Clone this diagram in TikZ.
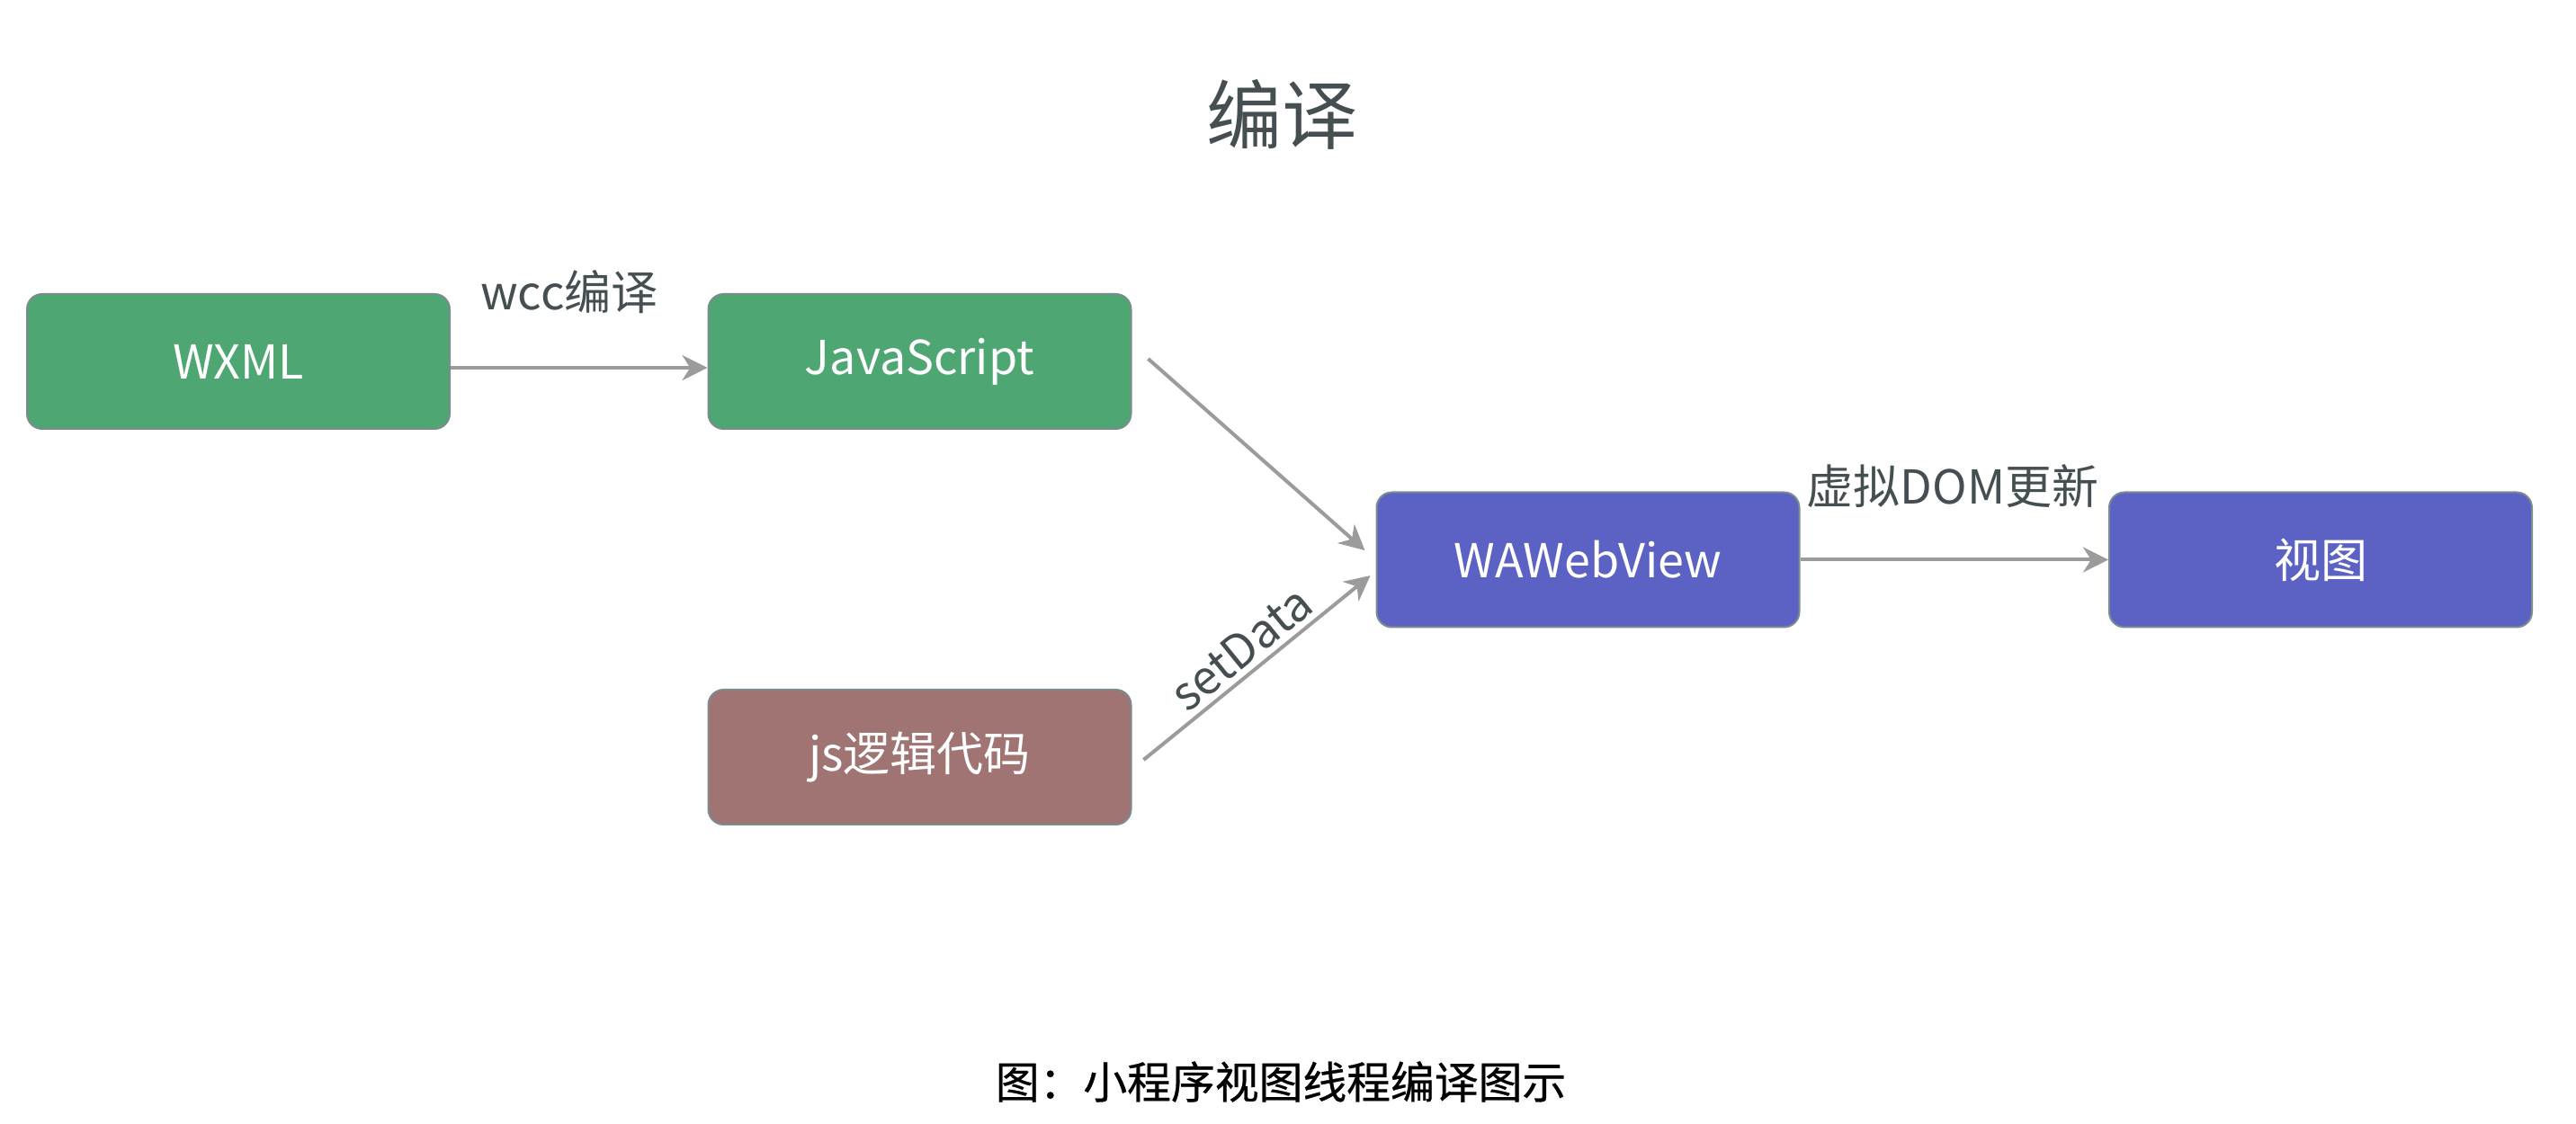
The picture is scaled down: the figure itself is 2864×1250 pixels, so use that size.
\documentclass[tikz,border=0pt]{standalone}
\usepackage{fontspec}
\setmainfont{Noto Sans CJK SC}
\newfontfamily\capfont[FakeBold=0.6]{Noto Sans CJK SC}
\usetikzlibrary{arrows.meta}
\definecolor{boxgreen}{HTML}{4EA672}
\definecolor{boxpurple}{HTML}{5C62C4}
\definecolor{boxbrown}{HTML}{A07472}
\definecolor{boxborder}{HTML}{7B8B8E}
\definecolor{textgray}{HTML}{454F52}
\definecolor{arrowgray}{HTML}{9B9B9B}
\tikzset{
  stepbox/.style={draw=boxborder, line width=0.5pt, rounded corners=4.25pt,
    minimum width=117.5pt, minimum height=37.5pt, inner sep=0pt,
    text=white, font=\fontsize{13pt}{15pt}\selectfont},
  greenbox/.style={stepbox, fill=boxgreen},
  purplebox/.style={stepbox, fill=boxpurple},
  brownbox/.style={stepbox, fill=boxbrown},
  flow/.style={draw=arrowgray, line width=1pt,
    -{Stealth[length=7pt, width=7pt, inset=2.2pt]}},
  lbl/.style={text=textgray, font=\fontsize{13pt}{15pt}\selectfont, inner sep=1.5pt}
}
\begin{document}
\begin{tikzpicture}[x=0.25pt, y=-0.25pt]
\useasboundingbox (0,0) rectangle (2864,1250);
\fill[white] (0,0) rectangle (2864,1250);

\node[text=textgray, font=\fontsize{21pt}{25pt}\selectfont] (title) at (1425,127) {编译};

\node[greenbox] (wxml) at (265,402) {WXML};
\node[greenbox] (js) at (1022.5,402) {JavaScript};
\node[brownbox] (logic) at (1022.5,842) {js逻辑代码};
\node[purplebox] (wa) at (1765.5,622.5) {WAWebView};
\node[purplebox] (view) at (2580,622.5) {视图};

\node[lbl] (wcc) at (633,325) {wcc编译};
\node[lbl] (vdom) at (2171,541) {虚拟DOM更新};

\draw[flow] ([yshift=-1.75pt]wxml.east) -- ([yshift=-1.75pt]js.west);
\draw[flow] ([xshift=4.5pt, yshift=0.75pt]js.east) -- ([xshift=-3pt, yshift=2.6pt]wa.west);
\draw[flow] ([xshift=3.25pt, yshift=-0.75pt]logic.east) -- ([xshift=-1.5pt, yshift=-4.4pt]wa.west)
  node[lbl, pos=0.5, sloped, above] (setdata) {setData};
\draw[flow] (wa.east) -- (view.west);

\node[text=black, font=\capfont\fontsize{12.2pt}{14pt}\selectfont] (caption) at (1424,1203) {图：小程序视图线程编译图示};
\end{tikzpicture}
\end{document}
